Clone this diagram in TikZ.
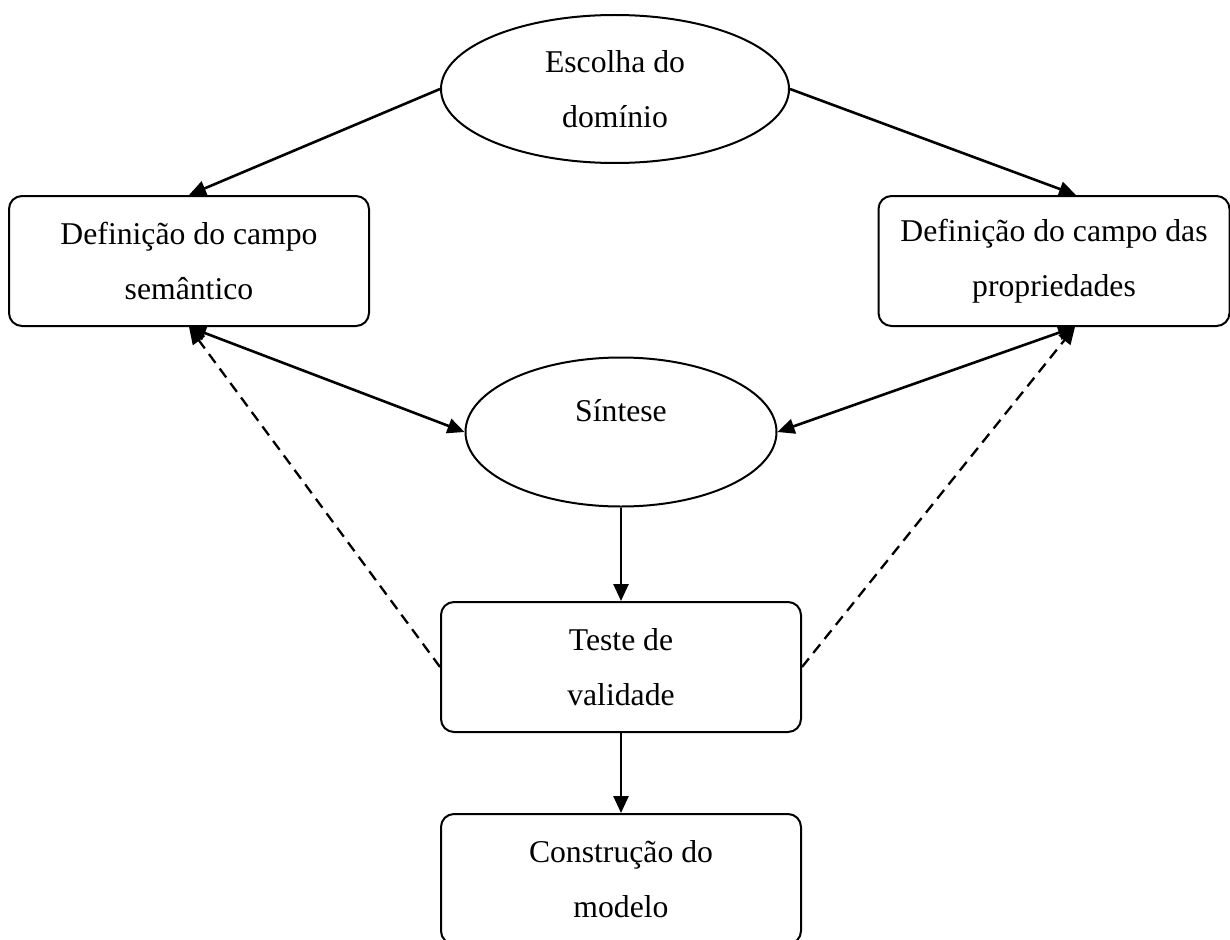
\documentclass[tikz,border=0pt]{standalone}
\usepackage{fontspec}
\setmainfont{Liberation Serif}
\usetikzlibrary{shapes.geometric,arrows.meta}
\begin{document}
\begin{tikzpicture}[x=1pt,y=-1pt,
  txt/.style={font=\fontsize{31.7}{55}\selectfont, align=center},
  boxnode/.style={txt, draw, line width=2pt, rounded corners=13pt, minimum width=#1, minimum height=130pt, inner sep=0pt},
  ellnode/.style={txt, draw, ellipse, line width=2pt, inner sep=0pt},
  conn/.style={line width=2.6pt, -{Triangle[length=17pt,width=15pt]}},
  dconn/.style={line width=2.6pt, {Triangle[length=17pt,width=15pt]}-{Triangle[length=17pt,width=15pt]}},
  dashconn/.style={line width=2.3pt, dash pattern=on 11pt off 7pt, -{Triangle[length=17pt,width=15pt]}}]
\useasboundingbox (0,0) rectangle (1230,939);
\node[ellnode, minimum width=348pt, minimum height=148pt] (e) at (615,89) {Escolha do\\domínio};
\node[boxnode=360pt] (l) at (189,261) {Definição do campo\\semântico};
\node[boxnode=351pt] (r) at (1054,261) {Definição do campo das\\propriedades};
\node[ellnode, minimum width=311pt, minimum height=149pt] (s) at (621,432) {};
\node[txt] (stxt) at (621,411) {Síntese};
\node[boxnode=360pt] (t) at (621,667) {Teste de\\validade};
\node[boxnode=360pt] (c) at (621,879) {Construção do\\modelo};
\draw[conn] (e.west) -- (l.north);
\draw[conn] (e.east) -- ([xshift=22pt]r.north);
\draw[dconn] (l.south) -- (s.west);
\draw[dconn] ([xshift=21pt]r.south) -- (s.east);
\draw[conn] (s.south) -- (t.north);
\draw[conn] (t.south) -- (c.north);
\draw[dashconn] (t.west) -- (l.south);
\draw[dashconn] (t.east) -- ([xshift=21pt]r.south);
\end{tikzpicture}
\end{document}
